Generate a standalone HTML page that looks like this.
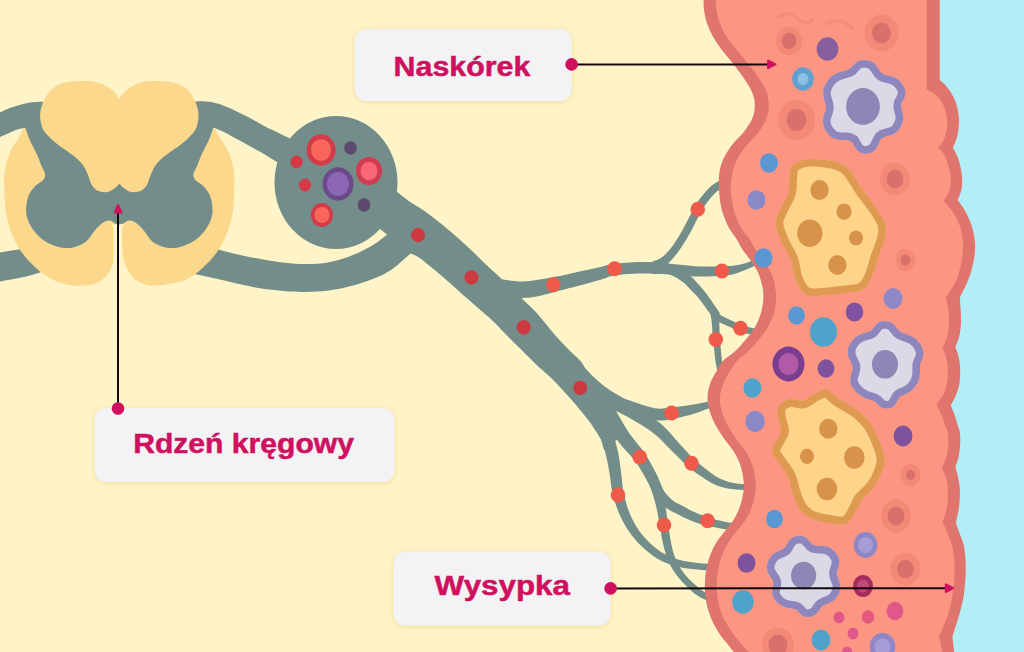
<!DOCTYPE html>
<html lang="pl">
<head>
<meta charset="utf-8">
<title>Diagram</title>
<style>
html,body{margin:0;padding:0;background:#FFF4C7;}
body{width:1024px;height:652px;overflow:hidden;font-family:"Liberation Sans",sans-serif;}
svg{display:block;}
.lbl{font-family:"Liberation Sans",sans-serif;font-weight:bold;fill:#D0105E;}
</style>
</head>
<body>
<svg width="1024" height="652" viewBox="0 0 1024 652">
<defs><filter id="bl" x="-10%" y="-20%" width="120%" height="140%"><feGaussianBlur stdDeviation="2.2"/></filter></defs>
<rect width="1024" height="652" fill="#FFF4C7"/>
<rect x="925" y="0" width="99" height="652" fill="#B3EEF6"/>

<g fill="#728D8A">
<path d="M484.9 294.4 C487.6 294.8 495 295.9 501.1 296.5 C507.2 297 515 298.1 521.4 298 C527.8 297.9 533.7 296.9 539.2 295.9 C544.8 294.9 549.9 293.3 554.6 292.1 C559.4 290.9 563.1 289.8 567.6 288.6 C572.1 287.4 575.9 286.5 581.6 285 C587.3 283.4 595.9 281 601.5 279.4 C607.2 277.8 609 276.2 615.4 275.2 C621.9 274.2 632.8 273.6 640.2 273.4 C647.6 273.3 656.5 273.9 659.8 274 L660.2 262.6 C656.8 262.5 647.6 261.7 639.8 262 C632.1 262.2 620.7 262.9 613.8 263.8 C606.9 264.7 604.4 266.3 598.5 267.6 C592.6 268.9 584.1 270.6 578.4 271.8 C572.7 273.1 568.9 274 564.4 275 C559.9 275.9 556 276.6 551.4 277.5 C546.8 278.3 541.8 279.4 536.8 280.1 C531.8 280.8 527 281.6 521.4 281.5 C515.8 281.4 508.6 280.2 502.9 279.5 C497.2 278.9 489.7 277.9 487.1 277.6 Z"/>
<path d="M649.8 272.1 C652.6 270.8 661.5 268.2 666.5 264.4 C671.6 260.6 675.9 254.8 680 249.2 C684.1 243.6 687.7 237.1 691.3 230.8 C694.8 224.4 698.5 216.2 701.3 211.3 C704 206.4 705.3 204.8 707.9 201.5 C710.5 198.2 713.7 194.1 716.8 191.6 C719.9 189.2 722.8 188.2 726.5 186.7 C730.2 185.2 737.1 183.5 739.2 182.8 L736.8 175.2 C734.6 175.9 727.7 177.6 723.5 179.3 C719.3 181 715.5 182.5 711.8 185.4 C708.2 188.2 704.6 192.9 701.7 196.5 C698.8 200.2 697.2 202.3 694.3 207.3 C691.4 212.4 687.8 220.7 684.3 226.8 C680.9 233 677.4 239.3 673.6 244.4 C669.8 249.5 666 254.3 661.5 257.6 C656.9 260.8 648.7 262.8 646.2 263.9 Z"/>
<path d="M654.6 273.5 C658.7 273.8 672 274.7 679.6 275.2 C687.1 275.7 692.8 276.4 699.9 276.5 C707 276.6 716.3 276.3 722.3 275.7 C728.3 275.2 731.1 274.8 735.9 273.4 C740.7 272 745.9 269.9 751.1 267.6 C756.4 265.3 764.6 261 767.3 259.7 L764.7 254.3 C762.1 255.6 754 260.1 748.9 262 C743.8 263.9 738.7 264.9 734.1 265.6 C729.6 266.3 727.4 266.1 721.7 266.3 C716.1 266.4 707 266.8 700.1 266.5 C693.2 266.3 687.9 265.4 680.4 264.8 C673 264.1 659.6 262.9 655.4 262.5 Z"/>
<path d="M658.4 270.7 C660.4 271.4 666.7 273.1 670.8 275 C675 276.9 679.8 279.7 683.1 282.2 C686.4 284.6 688 287.1 690.6 289.8 C693.1 292.4 695.1 293.9 698.5 298.1 C701.8 302.2 708.2 311.3 710.8 314.7 C713.3 318.1 713.4 317.6 714 318.2 L720 313.8 C719.6 313.1 720.1 313.2 717.6 309.7 C715.2 306.2 708.9 296.9 705.5 292.5 C702.2 288.1 700.2 286.2 697.4 283.2 C694.7 280.3 692.6 277.5 688.9 274.6 C685.2 271.7 679.7 268.2 675.2 266 C670.6 263.8 663.9 262.1 661.6 261.3 Z"/>
<path d="M711.6 317.4 C712.5 318 714.6 319.6 717.2 321.1 C719.9 322.5 723.8 324.4 727.6 326.1 C731.3 327.8 735.6 330 739.6 331.4 C743.7 332.8 747.3 333.8 751.9 334.7 C756.6 335.6 764.9 336.6 767.5 337 L768.5 331 C765.9 330.6 757.7 329.3 753.3 328.3 C748.9 327.3 745.8 326.4 742 325 C738.1 323.6 734 321.6 730.4 319.9 C726.9 318.2 723.1 316.3 720.6 314.9 C718.1 313.5 716.3 312.1 715.4 311.6 Z"/>
<path d="M710.3 312.6 C710.5 314.2 711.4 318.6 711.8 322.4 C712.2 326.1 712.3 330.9 712.7 335.3 C713.1 339.6 713.6 344.2 714.1 348.7 C714.6 353.3 714.9 357.5 715.7 362.5 C716.6 367.5 718.5 375.9 719.1 378.6 L724.9 377.4 C724.5 374.8 722.8 366.4 722.1 361.5 C721.4 356.6 721.1 352.5 720.7 348.1 C720.3 343.6 719.9 339.2 719.7 334.7 C719.4 330.3 719.6 325.5 719.2 321.6 C718.9 317.8 718 313.1 717.7 311.4 Z"/>
<path d="M586.1 386.6 C588.2 388.3 594 393.8 598.6 397.1 C603.2 400.4 609.3 404 613.9 406.5 C618.5 409 619.7 409.7 626.2 412 C632.7 414.2 645.2 419 652.9 420.1 C660.5 421.3 665.5 420 672.3 418.9 C679.2 417.9 688.1 415.5 694 413.8 C699.9 412.1 702.6 410.5 707.9 408.7 C713.3 406.8 722.9 403.8 725.9 402.9 L724.1 397.1 C721.1 398 711.4 400.9 706.1 402.1 C700.7 403.4 697.9 403.9 692 404.8 C686.1 405.7 677.1 406.9 670.9 407.5 C664.7 408.1 661.5 409.4 654.7 408.3 C648 407.1 636 402.7 630.2 400.6 C624.3 398.6 623.8 398.1 619.7 395.9 C615.6 393.7 609.9 390.4 605.6 387.3 C601.3 384.2 595.8 379.1 593.9 377.4 Z"/>
<path d="M596.6 401.1 C602.7 404.3 623.3 414.4 632.9 419.9 C642.6 425.4 648.1 428.9 654.6 434.1 C661.1 439.3 666.3 445.6 671.9 451.1 C677.6 456.5 683.1 462.4 688.3 466.8 C693.6 471.3 698.7 474.9 703.6 478 C708.4 481.1 712.1 483.7 717.4 485.7 C722.7 487.6 729.8 488.9 735.6 489.6 C741.3 490.2 749.2 489.7 751.9 489.7 L752.1 484.3 C749.5 484.1 741.7 484.6 736.4 483.6 C731.1 482.7 724.9 480.8 720.2 478.7 C715.5 476.6 712.7 474.2 708.4 471 C704.2 467.8 699.5 464.3 694.7 459.8 C689.8 455.2 684.9 449.5 679.5 443.7 C674 437.9 668.9 430.6 662.2 424.9 C655.5 419.2 648.9 415.5 639.1 409.5 C629.2 403.5 609.3 392.3 603.4 388.9 Z"/>
<path d="M601.6 415.9 C604.2 419.9 611.5 432.6 617 440 C622.5 447.5 629.9 454.2 634.7 460.6 C639.5 467.1 642.8 473.1 645.9 478.7 C649.1 484.3 651.6 490 653.7 494.2 C655.8 498.4 657.7 502.4 658.4 504.1 L667.6 499.9 C666.8 498.3 665.2 494.2 663.3 489.8 C661.4 485.4 659.1 479.4 656.1 473.3 C653 467.2 649.5 460.3 644.9 453.4 C640.3 446.5 633.5 439.5 628.4 432 C623.3 424.4 616.7 412.1 614.4 408.1 Z"/>
<path d="M652.2 492.3 C654.3 494.7 660.5 503.1 664.7 506.8 C669 510.4 673.3 511.9 677.7 514.2 C682.2 516.5 686.5 518.8 691.3 520.7 C696 522.6 701.7 524.3 706.4 525.6 C711.1 526.8 715.1 527.4 719.2 528.2 C723.4 528.9 726.5 529.5 731.3 530 C736 530.5 745 531 747.7 531.2 L748.3 524.8 C745.6 524.5 736.7 523.7 732.1 523 C727.5 522.4 724.6 521.8 720.8 520.8 C716.9 519.9 713.1 518.8 708.8 517.4 C704.5 516 699.2 514.3 694.7 512.3 C690.3 510.4 686.2 508 682.3 505.8 C678.4 503.6 675 502.6 671.3 499.2 C667.5 495.9 661.7 488 659.8 485.7 Z"/>
<path d="M650.4 487.3 C651.4 490.4 654.6 499.6 656.1 506 C657.7 512.4 658.6 519.2 659.8 525.7 C661 532.3 661.8 539.1 663.4 545.3 C665 551.6 666.5 557.6 669.2 563.2 C671.9 568.8 675.6 574 679.6 578.8 C683.5 583.6 689 588.8 692.9 592.2 C696.9 595.5 699.3 596.7 703.2 598.8 C707.2 601 714.4 603.9 716.7 605 L719.3 599 C717.2 598.1 710 595.2 706.4 593.2 C702.7 591.1 701 590 697.5 586.8 C693.9 583.7 688.6 578.9 685 574.4 C681.4 569.9 678.3 565.2 676 560 C673.7 554.9 672.5 549.4 671.2 543.5 C669.9 537.5 669.2 530.9 668.2 524.3 C667.1 517.7 666.3 510.6 664.9 504 C663.4 497.4 660.4 487.9 659.6 484.7 Z"/>
<path d="M586.1 415.8 C587.4 417.7 591.1 423.4 593.6 427.4 C596.1 431.4 599 434.9 601.1 439.6 C603.2 444.3 604.6 449.7 606 455.6 C607.5 461.5 608.6 468.1 609.8 474.9 C611 481.7 611.1 488.8 613.2 496.3 C615.2 503.9 618.4 512.7 622.2 520.1 C626.1 527.5 630.4 534.4 636.2 540.8 C641.9 547.1 649.5 553.8 656.7 558.2 C663.9 562.6 671 565.1 679.1 567.1 C687.3 569.1 698.6 569.7 705.7 570.2 C712.9 570.8 719.3 570.2 722 570.2 L722 563.8 C719.4 563.8 713.1 564.3 706.3 563.8 C699.4 563.2 688.5 562.3 680.9 560.3 C673.3 558.3 667.1 556 660.7 551.8 C654.3 547.6 647.6 541.2 642.6 535.2 C637.6 529.2 633.9 522.8 630.8 515.9 C627.6 509 625.4 500.8 623.8 493.7 C622.2 486.5 622.1 479.9 621.2 473.1 C620.2 466.3 619.5 459.2 618.2 452.8 C616.8 446.4 615.2 440.1 613.1 434.6 C611 429.2 608.1 424.6 605.6 420.2 C603.1 415.8 599.2 410.2 597.9 408.2 Z"/>
<path d="M375 225 L390 186 L390 186 C392.9 188.3 401.9 196 407.4 200 C412.9 204 417.1 205.8 423 210 C428.9 214.2 435.8 219.4 443 225.3 C450.2 231.2 459.1 239 466 245.3 C472.9 251.6 478.4 257.3 484.4 263 C490.4 268.7 496 273.7 502.2 279.5 C508.4 285.3 515.6 292.4 521.4 298 C527.1 303.6 531.6 307.4 536.7 313 C541.8 318.6 546.9 325.5 552 331.4 C557.1 337.3 562.7 343.4 567.4 348.3 C572.1 353.2 576.9 357.1 580 360.5 C583.1 363.9 583.5 366 586 369 C588.5 372 591.9 375.3 595.2 378.4 C598.5 381.5 604.2 386.1 606 387.6 L614.5 408 L616.8 439.7 L604.2 450.4 L601.3 440 C600 437.9 597 432.3 593.7 427.5 C590.4 422.7 586 417 581.4 411.4 C576.8 405.8 571.1 399.3 566 393.7 C560.9 388.1 555.6 382.4 550.7 377.6 C545.8 372.8 541.6 369.6 536.7 365 C531.8 360.4 526.5 354.9 521.4 349.8 C516.3 344.7 511.1 339.5 506 334.4 C500.9 329.3 497.4 325.1 490.7 319 C484 312.9 472.7 303.4 466 297.5 C459.3 291.6 455.8 288.2 450.7 283.7 C445.6 279.2 440.4 274.8 435.3 270.6 C430.2 266.4 424.1 261.2 420 258.3 C415.9 255.4 412.5 254.2 411 253.4 Z"/>
</g>
<path d="M185 240 C187.5 240.7 195 242.5 200 244 C205 245.5 208 246.9 215.2 248.8 C222.4 250.8 232.4 253.4 243.2 255.7 C254 257.9 269.3 260.9 279.9 262.3 C290.5 263.7 298.6 264 306.7 264 C314.8 264 321 263.8 328.7 262.3 C336.4 260.8 345.7 257.9 353 255 C360.3 252.2 367.1 248.5 372.6 245.2 C378.1 241.9 382.1 238.4 386 235.4 C389.9 232.4 394.3 228.4 396 227 L411.7 252.5 C408 255.6 397.4 265.9 389.7 270.8 C382 275.7 373.4 278.9 365.3 281.8 C357.2 284.7 349.1 286.8 341 288.4 C332.9 290 324.7 291.1 316.5 291.6 C308.3 292.1 302.2 292.3 292 291.6 C281.8 290.9 267.6 289.4 255.4 287.4 C243.2 285.3 229.8 281.7 218.8 279.3 C207.8 276.9 197.6 274.7 189.5 272.8 C181.4 270.9 173.2 268.8 170 268 Z" fill="#728D8A"/>
<path d="M-12 255 C-10 254.6 -6.1 253.5 0 252.5 C6.1 251.5 17.7 249.7 24.4 248.8 C31.1 247.9 34.1 247.5 40 247 C45.9 246.5 56.7 246.2 60 246 L60 268 C57.6 268.5 51.1 269.5 45.8 270.8 C40.5 272.1 35.8 274.2 28.2 276 C20.6 277.8 6.7 280.2 0 281.4 C-6.7 282.6 -10 282.7 -12 283 Z" fill="#728D8A"/>
<path d="M119 104 C107.6 104 96.5 104.3 85 106 C73.5 107.7 59.9 110.3 50 114 C40.1 117.7 30.5 124.2 25.4 128 C20.3 131.8 21.9 133.2 19.4 137 C16.9 140.8 13 145.8 10.6 151 C8.2 156.2 6.3 162.1 5.2 168 C4.1 173.9 3.9 178 4.2 186.3 C4.5 194.6 4.8 208.1 7 218 C9.2 227.9 12.9 237.8 17.6 246 C22.3 254.2 29.3 261.7 35.2 267.3 C41.1 272.9 47.1 276.8 52.9 279.7 C58.7 282.6 64.6 284 70 285 C75.4 286 80.8 286 85.4 285.6 C90 285.2 94 284.5 97.7 282.6 C101.4 280.8 105 277.3 107.4 274.5 C109.8 271.7 111.3 269.1 112.3 266 C113.3 262.9 113.3 260.3 113.5 256 C113.7 251.7 113.5 244.5 113.5 240 C113.5 235.5 113.7 231.8 113.3 229 C112.9 226.2 112 224.8 111 223.5 C110 222.2 108.8 220.9 107 221 C105.2 221.1 95 223.5 100 224 C105 224.5 132 224.5 137 224 C142 223.5 132 221.1 130 221 C128 220.9 126.3 222.2 125 223.5 C123.7 224.8 122.7 226.2 122.2 229 C121.7 231.8 122 236.5 122 240 C122 243.5 122 246.7 122.3 250 C122.6 253.3 123.2 256.9 124 260 C124.8 263.1 125.8 265.8 127 268.4 C128.2 271 129.9 273.5 131.5 275.5 C133.1 277.5 134.7 279.2 136.7 280.6 C138.7 282 141.1 283.2 143.5 284 C145.9 284.8 147.6 285.5 151.4 285.6 C155.2 285.7 160.7 285.5 166.4 284.5 C172.1 283.5 179.5 282.6 185.7 279.7 C191.9 276.8 197.5 272.9 203.4 267.3 C209.3 261.7 216.3 254.2 221 246 C225.7 237.8 229.4 227.9 231.6 218 C233.8 208.1 234.1 194.6 234.4 186.3 C234.7 178 234.5 173.9 233.4 168 C232.3 162.1 230.4 156.2 228 151 C225.6 145.8 221.7 140.8 219.2 137 C216.7 133.2 218.3 131.8 213.2 128 C208.1 124.2 198.5 117.7 188.6 114 C178.7 110.3 165.2 107.7 153.6 106 C142 104.3 130.4 104 119 104 Z" fill="#FCD88C"/>
<path d="M119 140 L60 108 L42.3 101.7 C40.6 101.8 35.5 101.8 32 102.3 C28.4 102.8 24.7 103.5 21 104.5 C17.3 105.5 13.5 106.7 10 108 C6.5 109.3 3.7 110.7 0 112.5 C-3.7 114.3 -10 117.9 -12 119 L-12 141 C-10 140.3 -4.6 138.8 0 137 C4.6 135.2 11.7 131.5 15.9 130 C20.1 128.5 23.8 128.3 25.4 128 L25.4 128 C26.2 130.1 28.1 136.1 30 140.5 C31.9 144.9 35.1 150.3 37 154.6 C38.9 158.8 40.1 162.7 41.5 166 C42.9 169.3 45 172 45.2 174.4 C45.4 176.8 44.4 178.5 42.7 180.5 C41 182.5 37.5 183.5 35 186.3 C32.5 189.1 29.4 192.8 28 197.5 C26.6 202.2 25.5 209 26.4 214.5 C27.3 220 30 225.6 33.5 230.3 C37 235 42 239.8 47.6 242.7 C53.2 245.6 60.8 248 67 248 C73.2 248 79.9 245.6 84.6 242.7 C89.3 239.8 91.9 233.7 95 230.3 C98.1 226.9 100.5 224.1 103 222.5 C105.5 220.9 108 220.3 110 220.5 C112 220.7 113.5 222.8 115 223.5 C116.5 224.2 118.3 224.3 119 224.5 L123.6 223.5 C124.4 223 126.6 220.7 128.6 220.5 C130.6 220.3 133.1 220.9 135.6 222.5 C138.1 224.1 140.5 226.9 143.6 230.3 C146.7 233.7 149.3 239.8 154 242.7 C158.7 245.6 165.4 248 171.6 248 C177.8 248 185.4 245.6 191 242.7 C196.6 239.8 201.6 235 205.1 230.3 C208.6 225.6 211.3 220 212.2 214.5 C213.1 209 212 202.2 210.6 197.5 C209.2 192.8 206.1 189.1 203.6 186.3 C201.1 183.5 197.6 182.5 195.9 180.5 C194.2 178.5 193.2 176.8 193.4 174.4 C193.6 172 195.7 169.3 197.1 166 C198.5 162.7 199.7 158.8 201.6 154.6 C203.5 150.3 206.6 145 208.6 140.5 C210.6 136 212.7 129.6 213.5 127.4 L224.5 132.3 C226.6 133.4 232.7 136.8 236.8 139 C240.9 141.2 245 143.5 249.1 145.8 C253.2 148.1 257.2 150.2 261.3 152.6 C265.4 155 270.2 157.9 273.6 160 C277.1 162.1 280.6 164.2 282 165 L300 175 L300 143.5 L285.9 136.6 C283.8 135.6 277.7 132.5 273.6 130.5 C269.5 128.5 265.4 126.6 261.3 124.4 C257.2 122.2 253.2 119.8 249.1 117.6 C245 115.4 240.9 113.4 236.8 111.5 C232.7 109.6 228.6 107.5 224.5 106 C220.4 104.5 216.4 103.1 212.3 102.3 C208.2 101.5 202.9 101.4 200 101.3 C197.1 101.2 195.6 101.6 194.7 101.7 L178 108 Z" fill="#728D8A"/>
<path d="M119.3 99.3 C118.8 98.5 117.5 95.9 116.5 94.5 C115.5 93.1 114.4 92.2 113 91 C111.6 89.8 110 88.2 108 87 C106 85.8 103.7 84.5 101 83.5 C98.3 82.5 95 81.7 92 81.3 C89 80.9 86.3 81 83 81 C79.7 81 75.7 81 72 81.5 C68.3 82 64.9 82 61 83.8 C57.1 85.5 52 88.2 48.8 92 C45.5 95.8 42.9 102.1 41.5 106.6 C40.1 111.1 39.9 114.7 40.3 118.8 C40.7 122.9 41.4 126.9 44 131 C46.6 135.1 51.3 139.1 56.2 143.2 C61.1 147.3 68.7 151.8 73.2 155.5 C77.7 159.2 80.5 161.9 83 165.2 C85.5 168.4 86.5 171.8 87.9 175 C89.3 178.2 90 182.1 91.6 184.7 C93.2 187.3 95.1 189.6 97.7 190.8 C100.3 192 104.4 192.6 107.4 192 C110.5 191.4 114 188.6 116 187.2 C118 185.8 118.8 184.1 119.3 183.5 L122.6 187.2 C124 188 128.1 191.4 131.2 192 C134.2 192.6 138.3 192 140.9 190.8 C143.5 189.6 145.4 187.3 147 184.7 C148.6 182.1 149.3 178.2 150.7 175 C152.1 171.8 153.2 168.4 155.6 165.2 C158 161.9 160.9 159.2 165.4 155.5 C169.9 151.8 177.5 147.3 182.4 143.2 C187.3 139.1 191.9 135.1 194.6 131 C197.2 126.9 197.9 122.9 198.3 118.8 C198.7 114.7 198.5 111.1 197.1 106.6 C195.7 102.1 193.1 95.8 189.8 92 C186.6 88.2 181.5 85.5 177.6 83.8 C173.7 82 170.3 82 166.6 81.5 C162.9 81 158.9 81 155.6 81 C152.3 81 149.6 80.9 146.6 81.3 C143.6 81.7 140.3 82.5 137.6 83.5 C134.9 84.5 132.6 85.8 130.6 87 C128.6 88.2 127 89.8 125.6 91 C124.2 92.2 123.1 93.1 122.1 94.5 C121 95.9 119.8 98.5 119.3 99.3 Z" fill="#FCD88C"/>
<ellipse cx="336" cy="182.5" rx="61.5" ry="66.5" fill="#728D8A"/>
<ellipse cx="321" cy="150" rx="14.5" ry="15.7" fill="#D23C49"/>
<ellipse cx="321" cy="150" rx="10" ry="10.8" fill="#F9665B"/>
<ellipse cx="369" cy="171" rx="13" ry="14" fill="#D23C50"/>
<ellipse cx="369" cy="171" rx="8.5" ry="9.2" fill="#F96876"/>
<ellipse cx="322" cy="215" rx="11" ry="11.9" fill="#D23C49"/>
<ellipse cx="322" cy="215" rx="7.5" ry="8.1" fill="#F9665B"/>
<ellipse cx="338" cy="184" rx="15.5" ry="16.7" fill="#6B4A8A"/>
<ellipse cx="338" cy="184" rx="11" ry="11.9" fill="#8C68B4"/>
<ellipse cx="350.5" cy="148" rx="6.3" ry="6.8" fill="#5E4A6E"/>
<ellipse cx="364" cy="205" rx="6.3" ry="6.8" fill="#5E4A6E"/>
<ellipse cx="296.5" cy="162" rx="6" ry="6.5" fill="#D43A48"/>
<ellipse cx="305" cy="185" rx="6" ry="6.5" fill="#D43A48"/>
<ellipse cx="418" cy="235" rx="7" ry="7.2" fill="#CC3A40"/>
<ellipse cx="471.4" cy="277.5" rx="7" ry="7.2" fill="#CC3A40"/>
<ellipse cx="523.7" cy="327.3" rx="7" ry="7.2" fill="#CC3A40"/>
<ellipse cx="580.2" cy="387.9" rx="7" ry="7.2" fill="#CC3A40"/>
<ellipse cx="553.3" cy="284.7" rx="7.3" ry="7.5" fill="#F05A4A"/>
<ellipse cx="614.6" cy="268.8" rx="7.3" ry="7.5" fill="#F05A4A"/>
<ellipse cx="697.8" cy="209.3" rx="7.3" ry="7.5" fill="#F05A4A"/>
<ellipse cx="722" cy="271" rx="7.3" ry="7.5" fill="#F05A4A"/>
<ellipse cx="740.5" cy="328.3" rx="7.3" ry="7.5" fill="#F05A4A"/>
<ellipse cx="715.8" cy="339.5" rx="7.3" ry="7.5" fill="#F05A4A"/>
<ellipse cx="671.6" cy="413" rx="7.3" ry="7.5" fill="#F05A4A"/>
<ellipse cx="639.8" cy="457" rx="7.3" ry="7.5" fill="#F05A4A"/>
<ellipse cx="691.5" cy="463.3" rx="7.3" ry="7.5" fill="#F05A4A"/>
<ellipse cx="618" cy="495" rx="7.3" ry="7.5" fill="#F05A4A"/>
<ellipse cx="664" cy="525" rx="7.3" ry="7.5" fill="#F05A4A"/>
<ellipse cx="707.6" cy="520.8" rx="7.3" ry="7.5" fill="#F05A4A"/>
<path d="M939.8 -20 L939.8 80 C941.1 81.3 945.3 84.6 947.8 87.9 C950.3 91.2 953 95.5 954.8 99.8 C956.6 104.1 957.7 109.5 958.4 113.8 C959.1 118.1 959.1 121.7 958.8 125.7 C958.5 129.7 957.8 134 956.8 137.7 C955.8 141.3 953.5 145.9 952.8 147.6 C953.6 149.3 956.4 153.6 957.8 157.6 C959.2 161.6 960.7 167.5 961.4 171.6 C962.1 175.7 962.2 178.9 962.2 182 C962.2 185.1 962.1 187 961.4 190 C960.7 193 958.4 198.2 957.8 199.9 C959.1 201.9 963.4 207.6 965.7 211.9 C968 216.2 970.2 221.2 971.7 225.8 C973.2 230.5 974.2 235.2 974.7 239.8 C975.2 244.5 975.2 248.7 974.7 253.7 C974.2 258.7 973 264.6 971.7 269.6 C970.4 274.6 968.7 279 966.7 283.6 C964.7 288.2 960.9 295.2 959.8 297.5 C960 299.9 960.6 307.3 960.8 312 C961 316.7 961.1 321.6 960.8 325.9 C960.5 330.2 959.7 334.3 958.8 337.8 C957.9 341.3 956 345.3 955.4 346.8 C956 348.6 958 354 958.8 357.8 C959.6 361.6 960.1 365.4 960.2 369.7 C960.3 374 960.1 379.4 959.4 383.7 C958.7 388 957.2 392 955.8 395.6 C954.4 399.2 951.6 403.9 950.8 405.6 C951.5 407.2 953.7 412.3 954.8 415.5 C955.9 418.7 956.7 422.2 957.5 425 C958.3 427.8 959.3 428.9 959.8 432 C960.2 435.1 960.4 439.9 960.2 443.9 C960 447.9 959.6 452.1 958.8 455.9 C958 459.7 956 465 955.4 466.8 C955.9 468.6 957.5 474 958.2 477.8 C958.9 481.6 959.6 485.4 959.8 489.7 C960 494 959.8 499.4 959.4 503.7 C959 508 958 512.5 957.4 515.6 C956.8 518.7 956.1 521.4 955.8 522.5 C956.4 524.2 958.1 529.2 959.4 533 C960.7 536.8 962.7 540.5 963.7 545 C964.7 549.5 965.2 554.7 965.5 560 C965.8 565.3 965.8 570.9 965.5 576.8 C965.2 582.7 964.6 589.6 963.7 595.5 C962.8 601.4 961.3 607.1 959.9 612.4 C958.5 617.7 956.5 623.3 955.2 627.4 C954 631.5 952.9 635.2 952.4 636.7 C952.7 639.2 953.5 646.1 954.3 652 C955.1 657.9 956.5 668.7 957 672 L746.6 667.6 C744.5 665 737.1 655.9 734 652 C730.9 648.1 730.2 647.4 727.7 644.2 C725.2 641 721.5 636.9 718.9 632.9 C716.3 628.9 713.9 624.5 712 620.3 C710.1 616.1 708.7 611.8 707.6 607.7 C706.5 603.7 705.9 600 705.4 596 C704.9 592 704.8 588 704.9 583.6 C705 579.2 705.5 574.2 706.3 569.6 C707.1 565 708.1 560.3 709.9 555.7 C711.7 551.1 714.2 546.1 716.9 541.8 C719.6 537.5 722.9 533.8 725.9 529.8 C728.9 525.8 732.3 522.1 734.8 517.8 C737.3 513.5 739.3 508.9 740.8 503.9 C742.3 498.9 743.5 492.7 743.8 488 C744.1 483.3 743.5 479.6 742.8 475.5 C742.1 471.4 741.3 467.6 739.8 463.6 C738.3 459.6 736.3 455.6 733.8 451.6 C731.3 447.6 727.9 444 724.9 439.7 C721.9 435.4 718.4 430.3 715.9 425.7 C713.4 421.1 711.3 416.4 709.9 411.8 C708.5 407.2 707.5 402.5 707.5 397.8 C707.5 393.1 708.6 388.2 710 383.9 C711.4 379.6 713.8 375.8 716 372 C718.2 368.2 719.9 364.4 723 361 C726.1 357.6 731 355.2 734.8 351.6 C738.6 348 742.5 343.6 745.8 339.6 C749.1 335.6 752.2 331.9 754.7 327.6 C757.2 323.3 759.3 318.3 760.7 313.7 C762.1 309.1 763 304.1 763.3 299.8 C763.6 295.5 763.5 292.1 762.7 287.8 C761.9 283.5 760.5 278.2 758.7 273.9 C756.9 269.6 754.4 265.9 751.8 261.9 C749.1 257.9 745.3 253.7 742.8 250 C740.3 246.3 739.1 243.2 736.8 239.5 C734.5 235.8 731.1 231.9 728.8 227.6 C726.5 223.3 724.4 218.2 722.9 213.6 C721.4 208.9 720.6 204.3 719.9 199.7 C719.2 195 719 190.3 718.9 185.7 C718.8 181 718.7 176.5 719.5 171.8 C720.3 167.2 721.7 162.5 723.9 157.8 C726.1 153.2 729.5 148.2 732.8 143.9 C736.1 139.6 740.5 136.4 743.8 132 C747.1 127.6 750.9 122.2 752.7 117.5 C754.5 112.8 754.9 107.9 754.7 103.6 C754.6 99.3 753.4 95.6 751.8 91.6 C750.1 87.6 747.6 84 744.8 79.7 C742 75.4 738.1 70 734.8 65.7 C731.5 61.4 728.2 58.1 724.9 53.8 C721.6 49.5 717.8 44.6 715 40 C712.2 35.4 709.8 30.7 708 26 C706.2 21.3 705 16.3 704.3 12 C703.5 7.7 703.6 5.3 703.5 0 C703.4 -5.3 703.5 -16.7 703.5 -20 Z" fill="#E0756D"/>
<path d="M926.7 -20 L926.7 89.5 C928.2 90.4 933.2 92.5 935.9 94.9 C938.6 97.3 941 100 942.8 103.8 C944.6 107.6 946.1 113.5 946.8 117.8 C947.5 122.1 947.5 125.7 946.8 129.7 C946.1 133.7 944.3 138.7 942.8 141.7 C941.3 144.7 938.6 146.6 937.8 147.6 C939 148.9 942.8 151.6 944.8 155.6 C946.8 159.6 948.8 167.2 949.8 171.6 C950.8 176 951 178.6 950.8 182 C950.6 185.4 950 188.8 948.8 192 C947.6 195.2 944.6 199.4 943.8 200.9 C945.3 202.7 950.1 207.8 952.8 211.9 C955.5 216.1 958.1 221.2 959.8 225.8 C961.4 230.5 962.2 235.2 962.7 239.8 C963.2 244.5 963.2 248.7 962.7 253.7 C962.2 258.7 961.1 264.6 959.8 269.6 C958.5 274.6 957.1 279 954.8 283.6 C952.5 288.2 947.3 295.2 945.8 297.5 C946.3 299.9 948.3 307.3 948.8 312 C949.3 316.7 949.1 321.6 948.8 325.9 C948.5 330.2 947.8 334.2 946.8 337.8 C945.8 341.4 943.5 345.8 942.8 347.4 C943.4 349.1 945.4 354.1 946.2 357.8 C947 361.5 947.7 365.4 947.8 369.7 C947.9 374 947.6 379.4 946.8 383.7 C946 388 944.5 392.1 942.8 395.6 C941 399.1 937.4 403.1 936.3 404.6 C937.2 406.4 940.3 412.1 941.8 415.5 C943.2 418.9 944 422.2 945 425 C946 427.8 947.3 428.9 947.8 432 C948.3 435.1 948.4 439.9 948.2 443.9 C948 447.9 947.9 451.9 946.8 455.9 C945.7 459.9 942.6 465.8 941.8 467.8 C942.5 469.5 945.2 474.2 946.2 477.8 C947.2 481.4 947.6 485.4 947.8 489.7 C948 494 947.9 499.4 947.4 503.7 C946.9 508 945.6 512.5 944.8 515.6 C944 518.8 943.1 521.4 942.8 522.6 C943.5 524.2 945.5 528.3 947 532 C948.5 535.7 950.8 540.3 952 545 C953.2 549.7 953.9 554.7 954.3 560 C954.7 565.3 954.6 570.9 954.3 576.8 C954 582.7 953.3 589.6 952.4 595.5 C951.5 601.4 950.3 607.1 948.7 612.4 C947.1 617.7 944.6 623.5 943 627.4 C941.4 631.3 939.7 634.4 939 635.8 C939.5 638.5 941.1 646 942.1 652 C943.1 658 944.5 668.7 945 672 L764.1 667.6 C761.6 665 752.9 655.9 749.1 652 C745.4 648.1 744.3 647.4 741.6 644.2 C738.9 641 735.6 636.9 732.8 632.9 C730 628.9 726.8 624.5 724.6 620.3 C722.4 616.1 720.8 611.8 719.6 607.7 C718.4 603.7 717.9 600 717.4 596 C716.9 592 716.8 588 716.9 583.6 C717 579.2 717.5 574.2 718.3 569.6 C719.1 565 720.1 560.3 721.9 555.7 C723.6 551.1 726.1 546.1 728.8 541.8 C731.4 537.5 734.8 533.8 737.8 529.8 C740.8 525.8 744.3 522.1 746.8 517.8 C749.3 513.5 751.2 508.9 752.7 503.9 C754.2 498.9 755.4 492.7 755.7 488 C756 483.3 755.4 479.6 754.7 475.5 C754.1 471.4 753.3 467.6 751.8 463.6 C750.3 459.6 748.3 455.6 745.8 451.6 C743.3 447.6 739.8 444 736.8 439.7 C733.8 435.4 730.3 430.3 727.8 425.7 C725.3 421.1 723.2 416.4 721.9 411.8 C720.6 407.2 719.7 402.5 719.9 397.8 C720.1 393.1 721.4 388.2 723 383.9 C724.6 379.6 727.2 375.8 729.5 372 C731.8 368.2 734 364.4 737 361 C740 357.6 744.2 355.2 747.8 351.6 C751.4 348 755.4 343.6 758.7 339.6 C762 335.6 765.2 331.9 767.7 327.6 C770.2 323.3 772.3 318.3 773.7 313.7 C775.1 309.1 775.7 304.1 776 299.8 C776.3 295.5 776 292.1 775.3 287.8 C774.6 283.5 773.5 278.2 771.7 273.9 C769.9 269.6 767.4 265.9 764.7 261.9 C762 257.9 758.2 253.7 755.7 250 C753.2 246.3 752.3 243.2 749.8 239.5 C747.3 235.8 743.3 231.9 740.8 227.6 C738.3 223.3 736.3 218.2 734.8 213.6 C733.3 208.9 732.5 204.3 731.8 199.7 C731.1 195 730.6 190.3 730.8 185.7 C731 181 731.6 176.5 732.8 171.8 C734 167.2 735.3 162.5 737.8 157.8 C740.3 153.2 744.3 148.2 747.8 143.9 C751.3 139.6 755.6 136.4 758.7 132 C761.9 127.6 765 122.2 766.7 117.5 C768.4 112.8 768.9 108.2 768.7 103.6 C768.5 98.9 767.4 93.9 765.7 89.6 C764 85.3 761.4 81.7 758.7 77.7 C756.1 73.7 752.9 69.7 749.8 65.7 C746.6 61.7 743.3 58.1 739.8 53.8 C736.3 49.5 731.9 44.6 728.8 40 C725.6 35.4 722.9 30.7 720.9 26 C718.9 21.3 717.7 16.3 716.9 12 C716.1 7.7 716.1 5.3 715.9 0 C715.7 -5.3 715.9 -16.7 715.9 -20 Z" fill="#FC9582"/>
<ellipse cx="789" cy="41" rx="13" ry="14.2" fill="#F28A77"/>
<ellipse cx="881.5" cy="33" rx="17" ry="18.5" fill="#F28A77"/>
<ellipse cx="796.5" cy="120" rx="18.5" ry="20.2" fill="#F28A77"/>
<ellipse cx="895" cy="179" rx="15" ry="16.4" fill="#F28A77"/>
<ellipse cx="905.5" cy="260" rx="10" ry="10.9" fill="#F28A77"/>
<ellipse cx="910.5" cy="475" rx="10" ry="10.9" fill="#F28A77"/>
<ellipse cx="896" cy="516" rx="15" ry="16.4" fill="#F28A77"/>
<ellipse cx="905.5" cy="569" rx="15" ry="16.4" fill="#F28A77"/>
<ellipse cx="778" cy="645" rx="16" ry="17.4" fill="#F28A77"/>
<ellipse cx="789" cy="41" rx="7.5" ry="8.2" fill="#D9706B"/>
<ellipse cx="881.5" cy="33" rx="9.5" ry="10.4" fill="#D9706B"/>
<ellipse cx="796.5" cy="120" rx="10" ry="10.9" fill="#D9706B"/>
<ellipse cx="895" cy="179" rx="8.4" ry="9.2" fill="#D9706B"/>
<ellipse cx="905.5" cy="260" rx="5" ry="5.5" fill="#D9706B"/>
<ellipse cx="910.5" cy="475" rx="4.7" ry="5.1" fill="#D9706B"/>
<ellipse cx="896" cy="516" rx="8.4" ry="9.2" fill="#D9706B"/>
<ellipse cx="905.5" cy="569" rx="8.4" ry="9.2" fill="#D9706B"/>
<ellipse cx="778" cy="645" rx="9.5" ry="10.4" fill="#D9706B"/>
<path d="M778 17 C784 12 792 13 797 18 C802 23 808 24 812 20" fill="none" stroke="#F48D7A" stroke-width="3.4" stroke-linecap="round"/>
<path d="M826 24 C832 20 840 20 845 23 C848 25 851 27 853 28" fill="none" stroke="#F48D7A" stroke-width="3.4" stroke-linecap="round"/>
<clipPath id="cp1"><path d="M791.9 166 C794.8 162.9 800.1 160 806.8 159.2 C813.5 158.4 825.1 159.5 832 161 C838.9 162.5 843 163.7 848 168.4 C853 173.1 857.4 182.5 862 189 C866.6 195.5 872 201.7 875.8 207.5 C879.6 213.3 883.5 218.6 885 223.6 C886.5 228.6 886.2 231.7 885 237.4 C883.8 243.1 880.3 251.1 878 258 C875.7 264.9 873.7 273.7 871 279 C868.3 284.3 867.3 287.5 862 290 C856.7 292.5 846.7 292.8 839 293.8 C831.3 294.8 821.8 296 816 296 C810.2 296 808 296.6 804.5 293.8 C801 291 797.3 284.6 795 279 C792.7 273.4 793 266.2 790.7 260 C788.5 253.8 784 248.1 781.5 242 C779 235.9 776 229 775.7 223.6 C775.5 218.2 778 214.8 780 209.8 C782 204.8 786.4 199.1 788 193.7 C789.6 188.3 788.9 182.2 789.5 177.6 C790.1 173 789 169.1 791.9 166 Z"/></clipPath>
<path d="M791.9 166 C794.8 162.9 800.1 160 806.8 159.2 C813.5 158.4 825.1 159.5 832 161 C838.9 162.5 843 163.7 848 168.4 C853 173.1 857.4 182.5 862 189 C866.6 195.5 872 201.7 875.8 207.5 C879.6 213.3 883.5 218.6 885 223.6 C886.5 228.6 886.2 231.7 885 237.4 C883.8 243.1 880.3 251.1 878 258 C875.7 264.9 873.7 273.7 871 279 C868.3 284.3 867.3 287.5 862 290 C856.7 292.5 846.7 292.8 839 293.8 C831.3 294.8 821.8 296 816 296 C810.2 296 808 296.6 804.5 293.8 C801 291 797.3 284.6 795 279 C792.7 273.4 793 266.2 790.7 260 C788.5 253.8 784 248.1 781.5 242 C779 235.9 776 229 775.7 223.6 C775.5 218.2 778 214.8 780 209.8 C782 204.8 786.4 199.1 788 193.7 C789.6 188.3 788.9 182.2 789.5 177.6 C790.1 173 789 169.1 791.9 166 Z" fill="#FDD48A" stroke="#DF9A52" stroke-width="15.2" clip-path="url(#cp1)"/>
<clipPath id="cp2"><path d="M778.8 405.7 C780.9 402.7 786.3 399.7 790.3 398.8 C794.3 397.9 798.8 401.5 803 400.5 C807.2 399.5 811.6 394.8 815.6 393 C819.6 391.2 823.2 388.6 827 389.6 C830.8 390.6 833.6 395.4 838.6 398.8 C843.6 402.2 851.6 405.8 857 410 C862.4 414.2 867 418.6 870.8 424 C874.6 429.4 877.7 436.7 880 442.5 C882.3 448.3 884.3 453.7 884.6 458.6 C884.9 463.5 883.9 467 882 472 C880.1 477 876.4 483.8 873 488.5 C869.6 493.2 864.6 495.8 861.6 500 C858.6 504.2 857.4 509.8 854.7 513.8 C852 517.8 849.7 522.5 845.5 524 C841.3 525.5 835.1 523.9 829.4 523 C823.6 522.1 816 520.7 811 518.4 C806 516.1 802.6 513.2 799.5 509 C796.4 504.8 794.5 498.3 792.6 493 C790.7 487.7 790.3 482 788 477 C785.7 472 781.5 467.2 778.8 463 C776.1 458.8 772.4 455.5 772 451.7 C771.6 447.9 775 443.4 776.5 440 C778 436.6 780.8 434.8 781 431 C781.2 427.2 778.1 421.2 777.7 417 C777.3 412.8 776.7 408.7 778.8 405.7 Z"/></clipPath>
<path d="M778.8 405.7 C780.9 402.7 786.3 399.7 790.3 398.8 C794.3 397.9 798.8 401.5 803 400.5 C807.2 399.5 811.6 394.8 815.6 393 C819.6 391.2 823.2 388.6 827 389.6 C830.8 390.6 833.6 395.4 838.6 398.8 C843.6 402.2 851.6 405.8 857 410 C862.4 414.2 867 418.6 870.8 424 C874.6 429.4 877.7 436.7 880 442.5 C882.3 448.3 884.3 453.7 884.6 458.6 C884.9 463.5 883.9 467 882 472 C880.1 477 876.4 483.8 873 488.5 C869.6 493.2 864.6 495.8 861.6 500 C858.6 504.2 857.4 509.8 854.7 513.8 C852 517.8 849.7 522.5 845.5 524 C841.3 525.5 835.1 523.9 829.4 523 C823.6 522.1 816 520.7 811 518.4 C806 516.1 802.6 513.2 799.5 509 C796.4 504.8 794.5 498.3 792.6 493 C790.7 487.7 790.3 482 788 477 C785.7 472 781.5 467.2 778.8 463 C776.1 458.8 772.4 455.5 772 451.7 C771.6 447.9 775 443.4 776.5 440 C778 436.6 780.8 434.8 781 431 C781.2 427.2 778.1 421.2 777.7 417 C777.3 412.8 776.7 408.7 778.8 405.7 Z" fill="#FDD48A" stroke="#DF9A52" stroke-width="16" clip-path="url(#cp2)"/>
<ellipse cx="819.5" cy="190" rx="9.2" ry="10" fill="#D9924A"/>
<ellipse cx="844" cy="211.7" rx="7.6" ry="8.3" fill="#D9924A"/>
<ellipse cx="809.8" cy="233.3" rx="12.6" ry="13.7" fill="#D9924A"/>
<ellipse cx="856" cy="238" rx="7" ry="7.6" fill="#D9924A"/>
<ellipse cx="837.4" cy="265" rx="9.2" ry="10" fill="#D9924A"/>
<ellipse cx="828.3" cy="428.7" rx="9.2" ry="10" fill="#D9924A"/>
<ellipse cx="807" cy="456.3" rx="7" ry="7.6" fill="#D9924A"/>
<ellipse cx="854.3" cy="457.5" rx="10.3" ry="11.2" fill="#D9924A"/>
<ellipse cx="827" cy="489" rx="10.3" ry="11.2" fill="#D9924A"/>
<clipPath id="cp3"><path d="M864.5 60 L867.8 60.3 L870.9 61.2 L873.9 63 L876.4 65.7 L878.4 68.8 L880.3 71.6 L882.3 73.5 L884.7 74.6 L887.5 75.4 L890.4 76.1 L893.4 77 L896.3 78.4 L898.9 80.2 L901 82.4 L902.8 84.9 L904.3 87.6 L905.3 90.5 L905.5 93.7 L904.7 97 L903.1 100.2 L901.5 103.1 L901 105.7 L901.3 108.3 L902 110.9 L902.7 113.7 L903.1 116.6 L903.1 119.5 L902.5 122.3 L901.5 125 L900.2 127.6 L898.5 130 L896.6 132.1 L894.2 133.7 L891.5 134.9 L888.6 135.7 L885.9 136.4 L883.4 137.2 L881.4 138.7 L879.8 141.4 L878.3 144.8 L876.3 148.3 L873.8 151 L870.9 152.7 L867.8 153.5 L864.5 153.7 L861.3 153.1 L858.2 151.5 L855.7 148.5 L853.6 144.9 L851.8 142 L849.5 140.7 L846.8 140.2 L843.8 140.1 L840.5 140 L837.2 139.5 L834.1 138.5 L831.3 136.9 L828.9 134.8 L826.9 132.4 L825.2 129.7 L823.9 126.8 L823.1 123.7 L822.9 120.5 L823.4 117.2 L824.4 114.1 L825.4 111.1 L826 108.3 L825.9 105.7 L825.3 102.9 L824.3 99.9 L823.5 96.8 L823.1 93.6 L823.3 90.4 L824.1 87.3 L825.4 84.4 L827 81.7 L829 79.2 L831.1 77 L833.6 75 L836.4 73.5 L839.3 72.3 L842.3 71.4 L845.2 70.6 L847.9 69.7 L850.4 68.3 L852.7 65.9 L855.2 63.3 L858.1 61.3 L861.2 60.3 Z"/></clipPath>
<path d="M864.5 60 L867.8 60.3 L870.9 61.2 L873.9 63 L876.4 65.7 L878.4 68.8 L880.3 71.6 L882.3 73.5 L884.7 74.6 L887.5 75.4 L890.4 76.1 L893.4 77 L896.3 78.4 L898.9 80.2 L901 82.4 L902.8 84.9 L904.3 87.6 L905.3 90.5 L905.5 93.7 L904.7 97 L903.1 100.2 L901.5 103.1 L901 105.7 L901.3 108.3 L902 110.9 L902.7 113.7 L903.1 116.6 L903.1 119.5 L902.5 122.3 L901.5 125 L900.2 127.6 L898.5 130 L896.6 132.1 L894.2 133.7 L891.5 134.9 L888.6 135.7 L885.9 136.4 L883.4 137.2 L881.4 138.7 L879.8 141.4 L878.3 144.8 L876.3 148.3 L873.8 151 L870.9 152.7 L867.8 153.5 L864.5 153.7 L861.3 153.1 L858.2 151.5 L855.7 148.5 L853.6 144.9 L851.8 142 L849.5 140.7 L846.8 140.2 L843.8 140.1 L840.5 140 L837.2 139.5 L834.1 138.5 L831.3 136.9 L828.9 134.8 L826.9 132.4 L825.2 129.7 L823.9 126.8 L823.1 123.7 L822.9 120.5 L823.4 117.2 L824.4 114.1 L825.4 111.1 L826 108.3 L825.9 105.7 L825.3 102.9 L824.3 99.9 L823.5 96.8 L823.1 93.6 L823.3 90.4 L824.1 87.3 L825.4 84.4 L827 81.7 L829 79.2 L831.1 77 L833.6 75 L836.4 73.5 L839.3 72.3 L842.3 71.4 L845.2 70.6 L847.9 69.7 L850.4 68.3 L852.7 65.9 L855.2 63.3 L858.1 61.3 L861.2 60.3 Z" fill="#DAD9E6" stroke="#8D87BD" stroke-width="15.2" clip-path="url(#cp3)"/>
<ellipse cx="863" cy="106.5" rx="16.9" ry="18.5" fill="#8E86B4"/>
<clipPath id="cp4"><path d="M884 321 L887 321.2 L890 321.9 L892.7 323.5 L895.1 325.8 L897.2 328.5 L899.1 330.8 L901.2 332.2 L903.6 333.2 L906 334.1 L908.6 335 L911.1 336.1 L913.6 337.4 L915.8 339.1 L917.8 341 L919.6 343.2 L921.1 345.6 L922.3 348.1 L923.2 350.8 L923.5 353.6 L923.2 356.5 L922.2 359.3 L920.9 362 L920.1 364.5 L920 366.9 L920 369.3 L920 371.8 L919.9 374.4 L919.6 376.9 L918.9 379.4 L918 381.8 L916.8 384.1 L915.4 386.2 L913.8 388.3 L912 390.1 L910 391.7 L907.8 393.1 L905.5 394.2 L903.2 395.2 L900.9 396.1 L899 397.8 L897.3 400.9 L895.4 404.3 L893 406.8 L890.1 408.2 L887 408.6 L884 408.3 L881 407.2 L878.4 404.9 L876 402.4 L873.7 400.9 L871.1 400.1 L868.5 399.3 L865.9 398.4 L863.4 397.3 L861 395.9 L858.7 394.3 L856.6 392.4 L854.6 390.4 L852.9 388.2 L851.5 385.8 L850.5 383.1 L850.1 380.3 L850.3 377.3 L851.1 374.4 L852 371.6 L852.6 369.1 L852.7 366.8 L852 364.5 L850.9 362.1 L849.6 359.5 L848.5 356.6 L847.8 353.7 L847.8 350.8 L848.3 348 L849.4 345.3 L850.7 342.8 L852.4 340.4 L854.3 338.3 L856.5 336.5 L858.9 335 L861.6 333.9 L864.3 333 L866.9 332.3 L869.4 331.5 L871.6 330.2 L873.6 327.7 L875.6 324.9 L878.1 322.6 L881 321.4 Z"/></clipPath>
<path d="M884 321 L887 321.2 L890 321.9 L892.7 323.5 L895.1 325.8 L897.2 328.5 L899.1 330.8 L901.2 332.2 L903.6 333.2 L906 334.1 L908.6 335 L911.1 336.1 L913.6 337.4 L915.8 339.1 L917.8 341 L919.6 343.2 L921.1 345.6 L922.3 348.1 L923.2 350.8 L923.5 353.6 L923.2 356.5 L922.2 359.3 L920.9 362 L920.1 364.5 L920 366.9 L920 369.3 L920 371.8 L919.9 374.4 L919.6 376.9 L918.9 379.4 L918 381.8 L916.8 384.1 L915.4 386.2 L913.8 388.3 L912 390.1 L910 391.7 L907.8 393.1 L905.5 394.2 L903.2 395.2 L900.9 396.1 L899 397.8 L897.3 400.9 L895.4 404.3 L893 406.8 L890.1 408.2 L887 408.6 L884 408.3 L881 407.2 L878.4 404.9 L876 402.4 L873.7 400.9 L871.1 400.1 L868.5 399.3 L865.9 398.4 L863.4 397.3 L861 395.9 L858.7 394.3 L856.6 392.4 L854.6 390.4 L852.9 388.2 L851.5 385.8 L850.5 383.1 L850.1 380.3 L850.3 377.3 L851.1 374.4 L852 371.6 L852.6 369.1 L852.7 366.8 L852 364.5 L850.9 362.1 L849.6 359.5 L848.5 356.6 L847.8 353.7 L847.8 350.8 L848.3 348 L849.4 345.3 L850.7 342.8 L852.4 340.4 L854.3 338.3 L856.5 336.5 L858.9 335 L861.6 333.9 L864.3 333 L866.9 332.3 L869.4 331.5 L871.6 330.2 L873.6 327.7 L875.6 324.9 L878.1 322.6 L881 321.4 Z" fill="#DAD9E6" stroke="#8D87BD" stroke-width="15.2" clip-path="url(#cp4)"/>
<ellipse cx="885" cy="364.3" rx="13" ry="14.3" fill="#8E86B4"/>
<clipPath id="cp5"><path d="M797.2 536 L800.1 535.8 L803 536.2 L805.8 537.6 L808.3 539.7 L810.5 542.2 L812.4 544.3 L814.6 545.4 L816.9 545.8 L819.5 545.9 L822.3 546 L825.2 546.3 L828 547.1 L830.6 548.3 L832.8 549.9 L834.8 551.9 L836.5 554.1 L838 556.5 L838.9 559.2 L839.3 562 L839 565 L838.2 567.9 L837.2 570.6 L836.8 573.1 L837 575.4 L837.8 577.8 L838.8 580.3 L839.8 582.9 L840.3 585.7 L840.2 588.4 L839.6 591.1 L838.7 593.6 L837.4 596 L835.8 598.2 L833.9 600.2 L831.7 601.8 L829.2 603 L826.7 604 L824.4 605 L822.3 606.2 L820.5 608.1 L818.9 610.5 L817.1 613 L814.9 614.9 L812.3 616.2 L809.6 616.9 L806.8 617.1 L804 616.6 L801.3 614.9 L799 612.4 L796.9 610.1 L794.7 609.1 L792.4 608.7 L790 608.3 L787.6 607.9 L785.1 607.3 L782.7 606.3 L780.5 605.1 L778.5 603.6 L776.6 601.8 L774.9 599.9 L773.5 597.7 L772.6 595.4 L772.1 592.8 L772.3 590 L772.9 587.4 L773.4 584.9 L773.5 582.7 L772.9 580.6 L771.7 578.5 L770.1 576.2 L768.5 573.8 L767.4 571.1 L766.8 568.3 L766.9 565.6 L767.5 563 L768.5 560.5 L769.8 558.1 L771.4 555.9 L773.4 554 L775.6 552.5 L778.1 551.3 L780.5 550.3 L782.8 549.2 L784.7 547.7 L786.2 545.4 L787.7 542.6 L789.5 539.9 L791.8 537.9 L794.4 536.7 Z"/></clipPath>
<path d="M797.2 536 L800.1 535.8 L803 536.2 L805.8 537.6 L808.3 539.7 L810.5 542.2 L812.4 544.3 L814.6 545.4 L816.9 545.8 L819.5 545.9 L822.3 546 L825.2 546.3 L828 547.1 L830.6 548.3 L832.8 549.9 L834.8 551.9 L836.5 554.1 L838 556.5 L838.9 559.2 L839.3 562 L839 565 L838.2 567.9 L837.2 570.6 L836.8 573.1 L837 575.4 L837.8 577.8 L838.8 580.3 L839.8 582.9 L840.3 585.7 L840.2 588.4 L839.6 591.1 L838.7 593.6 L837.4 596 L835.8 598.2 L833.9 600.2 L831.7 601.8 L829.2 603 L826.7 604 L824.4 605 L822.3 606.2 L820.5 608.1 L818.9 610.5 L817.1 613 L814.9 614.9 L812.3 616.2 L809.6 616.9 L806.8 617.1 L804 616.6 L801.3 614.9 L799 612.4 L796.9 610.1 L794.7 609.1 L792.4 608.7 L790 608.3 L787.6 607.9 L785.1 607.3 L782.7 606.3 L780.5 605.1 L778.5 603.6 L776.6 601.8 L774.9 599.9 L773.5 597.7 L772.6 595.4 L772.1 592.8 L772.3 590 L772.9 587.4 L773.4 584.9 L773.5 582.7 L772.9 580.6 L771.7 578.5 L770.1 576.2 L768.5 573.8 L767.4 571.1 L766.8 568.3 L766.9 565.6 L767.5 563 L768.5 560.5 L769.8 558.1 L771.4 555.9 L773.4 554 L775.6 552.5 L778.1 551.3 L780.5 550.3 L782.8 549.2 L784.7 547.7 L786.2 545.4 L787.7 542.6 L789.5 539.9 L791.8 537.9 L794.4 536.7 Z" fill="#DAD9E6" stroke="#8D87BD" stroke-width="15.2" clip-path="url(#cp5)"/>
<ellipse cx="803.6" cy="575.6" rx="12.6" ry="13.8" fill="#8E86B4"/>
<ellipse cx="827.5" cy="49" rx="10.8" ry="11.8" fill="#855F9F"/>
<ellipse cx="803" cy="79" rx="10.8" ry="11.8" fill="#5FA0D0"/>
<ellipse cx="803" cy="79" rx="5.5" ry="6" fill="#8FC0E4"/>
<ellipse cx="769" cy="163" rx="9" ry="9.8" fill="#5B97D3"/>
<ellipse cx="756.5" cy="200" rx="9" ry="9.8" fill="#8A88C6"/>
<ellipse cx="763.5" cy="258" rx="9" ry="9.8" fill="#5B97D3"/>
<ellipse cx="893" cy="298.5" rx="9.5" ry="10.4" fill="#8E88C6"/>
<ellipse cx="854.5" cy="312" rx="8.8" ry="9.6" fill="#7E529E"/>
<ellipse cx="796.5" cy="315.5" rx="8.4" ry="9.2" fill="#5B97D3"/>
<ellipse cx="823.5" cy="332" rx="13.5" ry="14.7" fill="#4FA3CB"/>
<ellipse cx="826" cy="368.5" rx="8.4" ry="9.2" fill="#7E529E"/>
<ellipse cx="752.5" cy="388" rx="9" ry="9.8" fill="#4FA3CB"/>
<ellipse cx="755" cy="421.5" rx="9.8" ry="10.7" fill="#8A88C6"/>
<ellipse cx="903" cy="436" rx="9.5" ry="10.4" fill="#7E529E"/>
<ellipse cx="774.5" cy="519" rx="8.4" ry="9.2" fill="#5B97D3"/>
<ellipse cx="746.5" cy="563" rx="9" ry="9.8" fill="#7E529E"/>
<ellipse cx="743" cy="602" rx="10.8" ry="11.8" fill="#4FA3CB"/>
<ellipse cx="895" cy="611" rx="8.4" ry="9.2" fill="#E0588A"/>
<ellipse cx="868" cy="617" rx="6.2" ry="6.8" fill="#E55880"/>
<ellipse cx="839" cy="617.5" rx="5.4" ry="5.9" fill="#E0588A"/>
<ellipse cx="853" cy="633.5" rx="5.4" ry="5.9" fill="#E0588A"/>
<ellipse cx="847" cy="652" rx="5" ry="5.5" fill="#E0588A"/>
<ellipse cx="821" cy="640" rx="9.5" ry="10.4" fill="#4FA3CB"/>
<ellipse cx="788.5" cy="364" rx="16" ry="17.4" fill="#7A3E90"/>
<ellipse cx="788.5" cy="364" rx="10" ry="10.9" fill="#B05AA8"/>
<ellipse cx="865.5" cy="545" rx="11.8" ry="12.9" fill="#8E86C6"/>
<ellipse cx="865.5" cy="545" rx="7.4" ry="8.1" fill="#A89CD6"/>
<ellipse cx="863" cy="586" rx="10" ry="10.9" fill="#A52C5E"/>
<ellipse cx="863" cy="586" rx="6" ry="6.5" fill="#C4477C"/>
<ellipse cx="882.5" cy="647" rx="12.8" ry="14" fill="#8E86C6"/>
<ellipse cx="882.5" cy="647" rx="8" ry="8.7" fill="#A89CD6"/>
<rect x="353.7" y="29" width="219" height="74" rx="13" fill="#E6D292" opacity="0.55" filter="url(#bl)"/>
<rect x="354.7" y="29" width="217" height="72" rx="11.5" fill="#F3F3F6"/>
<text class="lbl" x="393.6" y="75.9" font-size="28" textLength="136.8" lengthAdjust="spacingAndGlyphs" stroke="#D0105E" stroke-width="0.5">Naskórek</text>
<rect x="93.5" y="408" width="302" height="76" rx="13" fill="#E6D292" opacity="0.55" filter="url(#bl)"/>
<rect x="94.5" y="408" width="300" height="74" rx="11.5" fill="#F3F3F6"/>
<text class="lbl" x="133.2" y="452.8" font-size="28" textLength="220.8" lengthAdjust="spacingAndGlyphs" stroke="#D0105E" stroke-width="0.5">Rdzeń kręgowy</text>
<rect x="392.5" y="551.5" width="219" height="76" rx="13" fill="#E6D292" opacity="0.55" filter="url(#bl)"/>
<rect x="393.5" y="551.5" width="217" height="74" rx="11.5" fill="#F3F3F6"/>
<text class="lbl" x="434.6" y="595.2" font-size="28" textLength="135.4" lengthAdjust="spacingAndGlyphs" stroke="#D0105E" stroke-width="0.5">Wysypka</text>
<line x1="571.6" y1="64.4" x2="768.5" y2="64.4" stroke="#14080c" stroke-width="2"/>
<path d="M775.5 64.4 L768.1 60.6 L768.1 68.2 Z" fill="#D0105E" stroke="#D0105E" stroke-width="2" stroke-linejoin="round"/>
<circle cx="571.6" cy="64.4" r="6.3" fill="#D0105E"/>
<line x1="118" y1="408.5" x2="118" y2="212" stroke="#14080c" stroke-width="2"/>
<path d="M118 205 L114.5 212.6 L121.5 212.6 Z" fill="#D0105E" stroke="#D0105E" stroke-width="2" stroke-linejoin="round"/>
<circle cx="118" cy="408.5" r="6.3" fill="#D0105E"/>
<line x1="610.6" y1="588.4" x2="946.2" y2="588.2" stroke="#14080c" stroke-width="2"/>
<path d="M953.2 588.2 L945.8 584.4 L945.8 592 Z" fill="#D0105E" stroke="#D0105E" stroke-width="2" stroke-linejoin="round"/>
<circle cx="610.6" cy="588.4" r="6.3" fill="#D0105E"/>
</svg>
</body>
</html>
